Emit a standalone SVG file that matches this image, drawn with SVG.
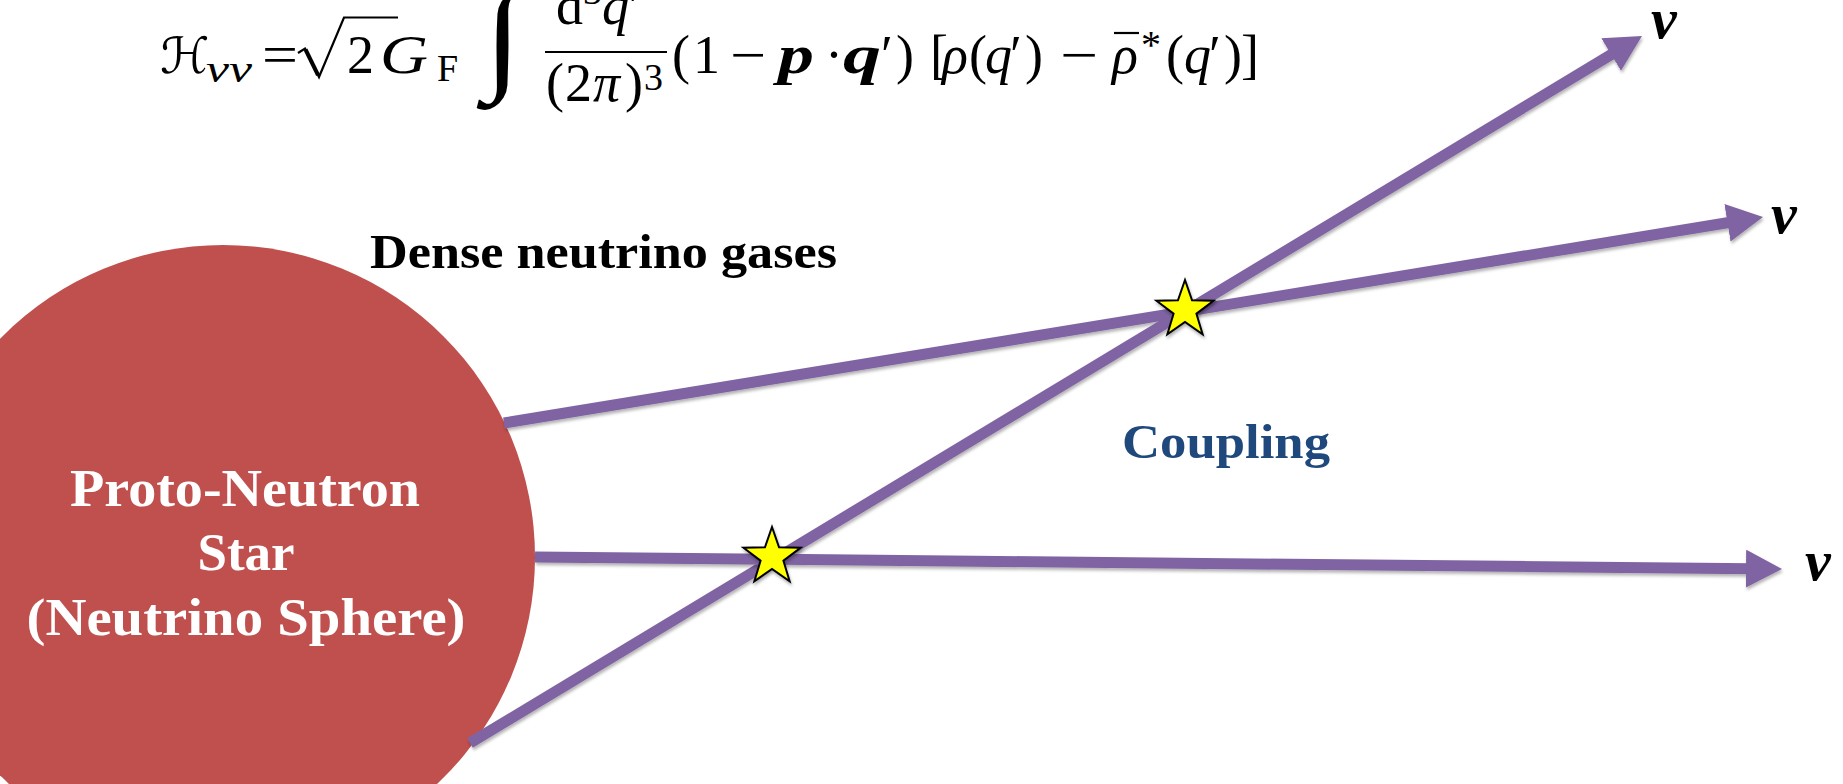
<svg xmlns="http://www.w3.org/2000/svg" width="1843" height="784" viewBox="0 0 1843 784">
<style>
  .m { font-family: "Liberation Serif", "DejaVu Serif", serif; font-size: 54px; fill: #000; }
  .i { font-style: italic; }
  .bi { font-style: italic; font-weight: bold; }
  .sub { font-size: 38px; }
  .lbl { font-family: "Liberation Serif", serif; font-weight: bold; }
  .nu { font-family: "Liberation Serif", serif; font-weight: bold; font-style: italic; font-size: 58px; fill: #000; }
  .ray { stroke: #8064A2; stroke-width: 11; fill: none; marker-end: url(#arr); filter: url(#sh); }
  .star { fill: #FFFF00; stroke: #000; stroke-width: 2; stroke-linejoin: miter; filter: url(#shs); }
  .rule { stroke: #000; fill: none; }
</style>
<defs>
  <filter id="sh" filterUnits="userSpaceOnUse" x="0" y="0" width="1843" height="784">
    <feDropShadow dx="1" dy="2.5" stdDeviation="1.5" flood-color="#000" flood-opacity="0.3"/>
  </filter>
  <filter id="shs" x="-0.3" y="-0.3" width="1.6" height="1.6">
    <feDropShadow dx="1" dy="2.5" stdDeviation="1.5" flood-color="#000" flood-opacity="0.3"/>
  </filter>
  <marker id="arr" markerUnits="userSpaceOnUse" viewBox="0 0 36 38" refX="6" refY="19" markerWidth="36" markerHeight="38" orient="auto">
    <path d="M0,0 L36,19 L0,38 Z" fill="#8064A2"/>
  </marker>
  <polygon id="starShape" points="0,-30 7.05,-9.71 28.53,-9.27 11.41,3.71 17.63,24.27 0,12 -17.63,24.27 -11.41,3.71 -28.53,-9.27 -7.05,-9.71"/>
</defs>
<rect width="1843" height="784" fill="#fff"/>

<g id="formula">
  <text class="m" x="160" y="73" style="font-family:'DejaVu Serif','DejaVu Sans',serif;font-style:italic;font-size:50px">ℋ</text>
  <text class="m i sub" x="206" y="82" textLength="46" lengthAdjust="spacingAndGlyphs">νν</text>
  <text class="m" x="262" y="73" textLength="36" lengthAdjust="spacingAndGlyphs">=</text>
  <polyline class="rule" points="298,53 305,48.5 319,77 344,17.5 398,17.5" stroke-width="2.2" stroke-linejoin="miter"/>
  <line class="rule" x1="305.5" y1="49.5" x2="318" y2="75" stroke-width="4"/>
  <text class="m" x="347" y="73">2</text>
  <text class="m i" x="380" y="73" textLength="48" lengthAdjust="spacingAndGlyphs">G</text>
  <text class="m sub" x="437" y="81">F</text>
  <text class="m" transform="translate(484,77) scale(1.12,1)" style="font-size:123px">∫</text>
  <text class="m" x="556" y="24">d<tspan class="sub" dy="-20">3</tspan><tspan class="i" dy="20">q</tspan>′</text>
  <line class="rule" x1="545" y1="52" x2="667" y2="52" stroke-width="2.2"/>
  <text class="m" x="546" y="101">(<tspan x="565">2</tspan><tspan class="i" x="593">π</tspan><tspan x="625">)</tspan></text>
  <text class="m sub" x="644" y="90">3</text>
  <text class="m" x="672" y="73">(</text>
  <text class="m" x="693" y="73">1</text>
  <text class="m" x="730" y="73" textLength="36" lengthAdjust="spacingAndGlyphs">−</text>
  <text class="m bi" x="778" y="73" textLength="36" lengthAdjust="spacingAndGlyphs">p</text>
  <text class="m" x="825" y="73">·</text>
  <text class="m bi" x="843" y="73" textLength="38" lengthAdjust="spacingAndGlyphs">q</text>
  <text class="m" x="881" y="73">′</text>
  <text class="m" x="896" y="73">)</text>
  <text class="m" x="930" y="73">[</text>
  <text class="m i" x="942" y="73">ρ</text>
  <text class="m" x="969" y="73">(</text>
  <text class="m i" x="985" y="73">q</text>
  <text class="m" x="1010" y="73">′</text>
  <text class="m" x="1025" y="73">)</text>
  <text class="m" x="1060" y="73" textLength="38" lengthAdjust="spacingAndGlyphs">−</text>
  <text class="m i" x="1112" y="73">ρ</text>
  <line class="rule" x1="1114" y1="33" x2="1139" y2="33" stroke-width="2.2"/>
  <text class="m" x="1141" y="58" style="font-size:40px">*</text>
  <text class="m" x="1166" y="73">(</text>
  <text class="m i" x="1184" y="73">q</text>
  <text class="m" x="1209" y="73">′</text>
  <text class="m" x="1224" y="73">)</text>
  <text class="m" x="1241" y="73">]</text>
</g>

<g id="star-node">
  <circle cx="223" cy="557" r="312" fill="#C0504D"/>
  <text class="lbl" x="245" y="506" font-size="53" fill="#fff" text-anchor="middle" textLength="350" lengthAdjust="spacingAndGlyphs">Proto-Neutron</text>
  <text class="lbl" x="246" y="570" font-size="53" fill="#fff" text-anchor="middle">Star</text>
  <text class="lbl" x="246" y="635" font-size="53" fill="#fff" text-anchor="middle" textLength="439" lengthAdjust="spacingAndGlyphs">(Neutrino Sphere)</text>
</g>

<g id="label-dense">
  <text class="lbl" x="370" y="268" font-size="48" fill="#000" textLength="467" lengthAdjust="spacingAndGlyphs">Dense neutrino gases</text>
</g>

<g id="label-coupling">
  <text class="lbl" x="1122" y="458" font-size="48" fill="#1F497D" textLength="208" lengthAdjust="spacingAndGlyphs">Coupling</text>
</g>

<g id="connectors">
  <line class="ray" x1="504" y1="423" x2="1733.4" y2="221.8"/>
  <line class="ray" x1="470" y1="743" x2="1616.3" y2="51.5"/>
  <line class="ray" x1="535" y1="557" x2="1752" y2="568.7"/>
</g>

<g id="stars">
  <use href="#starShape" class="star" transform="translate(1185,310)"/>
  <use href="#starShape" class="star" transform="translate(772,557)"/>
</g>

<g id="nu-labels">
  <text class="nu" x="1651" y="38">ν</text>
  <text class="nu" x="1771" y="233">ν</text>
  <text class="nu" x="1805" y="580">ν</text>
</g>
</svg>
